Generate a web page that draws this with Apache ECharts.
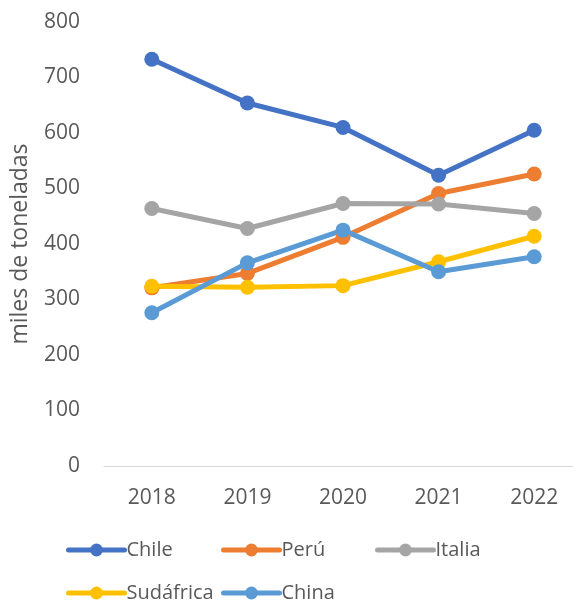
<!DOCTYPE html>
<html>
<head>
<meta charset="utf-8">
<script src="https://cdn.jsdelivr.net/npm/echarts@6/dist/echarts.min.js"></script>
<style>
  html, body { margin: 0; padding: 0; background: #fff; }
  #chart { width: 573px; height: 603px; }
</style>
</head>
<body>
<div id="chart"></div>
<script>
const years = ['2018', '2019', '2020', '2021', '2022'];
const chile = [733, 654, 610, 524, 605];
const peru = [321, 347, 412, 491, 526];
const italia = [464, 428, 473, 472, 455];
const sudafrica = [324, 322, 325, 368, 414];
const china = [276, 366, 425, 350, 377];

const seriesNames = ['Chile', 'Perú', 'Italia', 'Sudáfrica', 'China'];
const seriesColors = ['#4472C4', '#ED7D31', '#A5A5A5', '#FFC000', '#5B9BD5'];
const seriesData = [chile, peru, italia, sudafrica, china];

const fontFamily = '"Open Sans", "Noto Sans", sans-serif';
const textColor = '#595959';

const chart = echarts.init(document.getElementById('chart'));

// legend laid out like excel: fixed columns, two rows
const legendPos = [
  { left: 66, top: 540 },
  { left: 221, top: 540 },
  { left: 375, top: 540 },
  { left: 66, top: 583 },
  { left: 221, top: 583 }
];

const legends = seriesNames.map((name, i) => ({
  data: [name],
  left: legendPos[i].left,
  top: legendPos[i].top,
  padding: 0,
  itemWidth: 56,
  itemHeight: 16,
  itemGap: 0,
  selectedMode: false,
  lineStyle: { width: 5, cap: 'round' },
  textStyle: {
    color: textColor,
    fontSize: 20,
    fontFamily,
    padding: [0, 0, 0, -3]
  }
}));

const series = seriesNames.map((name, i) => ({
  type: 'line',
  name,
  data: seriesData[i],
  symbol: 'circle',
  symbolSize: 15,
  lineStyle: { width: 5, color: seriesColors[i], cap: 'round', join: 'round' },
  itemStyle: { color: seriesColors[i] },
  emphasis: { disabled: true },
  animation: false
}));

const option = {
  color: seriesColors,
  animation: false,
  grid: {
    left: 104,
    top: 22,
    width: 478,
    bottom: 137,
    outerBoundsMode: 'none',
    containLabel: false
  },
  legend: legends,
  xAxis: {
    type: 'category',
    data: years,
    boundaryGap: true,
    axisLine: { lineStyle: { color: '#D9D9D9', width: 1 } },
    axisTick: { show: false },
    axisLabel: {
      color: textColor,
      fontSize: 21,
      fontFamily,
      margin: 22
    }
  },
  yAxis: {
    type: 'value',
    min: 0,
    max: 800,
    interval: 100,
    name: 'miles de toneladas',
    nameLocation: 'middle',
    nameGap: 72,
    nameTextStyle: {
      color: textColor,
      fontSize: 23,
      fontFamily
    },
    axisLine: { show: false },
    axisTick: { show: false },
    splitLine: { show: false },
    axisLabel: {
      color: textColor,
      fontSize: 21,
      fontFamily,
      margin: 24
    }
  },
  series
};

chart.setOption(option);
</script>
</body>
</html>
